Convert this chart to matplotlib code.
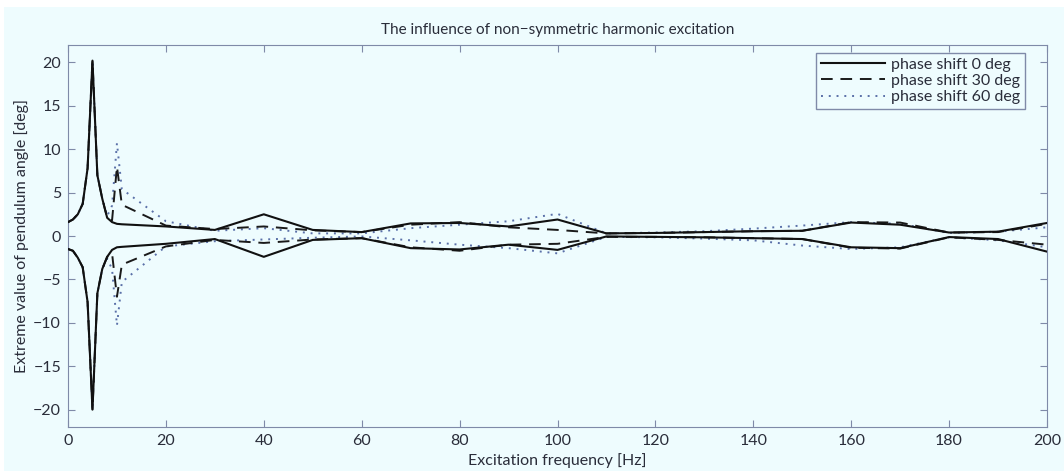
import matplotlib
matplotlib.use("Agg")
import matplotlib.pyplot as plt
from matplotlib.patches import Rectangle

plt.rcParams["font.family"] = ["Lato", "DejaVu Sans"]

# excitation frequencies [Hz]
freq = [0, 1, 2, 3, 4, 5, 6, 7, 8, 9, 10, 11,
        20, 30, 40, 50, 60, 70, 80, 90, 100, 110,
        120, 130, 140, 150, 160, 170, 180, 190, 200]

# extreme pendulum angles [deg], phase shift 0 deg
shift0_max = [1.6, 1.9, 2.5, 3.7, 7.8, 20.2, 7.0, 4.3, 2.1, 1.6, 1.4, 1.35,
              1.1, 0.7, 2.5, 0.7, 0.45, 1.45, 1.5, 1.1, 1.9, 0.3,
              0.35, 0.45, 0.55, 0.6, 1.55, 1.3, 0.4, 0.5, 1.5]
shift0_min = [-1.5, -1.7, -2.5, -3.6, -7.6, -20.0, -6.6, -3.8, -2.4, -1.6, -1.3, -1.25,
              -0.9, -0.35, -2.4, -0.45, -0.25, -1.4, -1.55, -1.0, -1.6, -0.05,
              -0.1, -0.15, -0.25, -0.35, -1.3, -1.4, -0.12, -0.35, -1.8]

# phase shift 30 deg
shift30_max = [1.6, 1.9, 2.5, 3.7, 7.8, 20.2, 7.0, 4.3, 2.1, 1.8, 8.0, 3.6,
               1.2, 0.8, 1.1, 0.65, 0.45, 1.3, 1.6, 1.0, 0.7, 0.3,
               0.35, 0.45, 0.55, 0.6, 1.6, 1.55, 0.4, 0.45, 1.4]
shift30_min = [-1.5, -1.7, -2.5, -3.6, -7.6, -20.0, -6.6, -3.8, -2.4, -2.0, -7.0, -3.3,
               -1.2, -0.45, -0.8, -0.4, -0.25, -1.3, -1.7, -1.0, -0.9, -0.1,
               -0.1, -0.15, -0.25, -0.35, -1.35, -1.45, -0.15, -0.45, -1.0]

# phase shift 60 deg
shift60_max = [1.6, 1.9, 2.5, 3.7, 7.8, 20.2, 7.0, 4.3, 2.3, 3.5, 10.7, 5.4,
               1.7, 0.6, 0.9, 0.3, 0.3, 0.9, 1.3, 1.7, 2.55, 0.3,
               0.4, 0.55, 0.85, 1.2, 1.6, 1.4, 0.35, 0.5, 1.0]
shift60_min = [-1.5, -1.7, -2.5, -3.6, -7.6, -20.0, -6.6, -3.8, -2.6, -3.8, -10.3, -5.3,
               -1.2, -0.6, -0.4, -0.2, -0.05, -0.5, -1.0, -1.4, -2.0, -0.1,
               -0.15, -0.3, -0.5, -1.1, -1.5, -1.3, -0.15, -0.5, -1.3]

bg = "#eefcfe"
frame = "#7f8aa8"
text_col = "#2a2d3a"
fs = 11.5

fig = plt.figure(figsize=(10.64, 4.71), dpi=100, facecolor="white")
fig.patches.append(Rectangle((4 / 1064, 0), 1, 1 - 7 / 471, transform=fig.transFigure,
                             facecolor=bg, edgecolor="none", zorder=-10))
ax = fig.add_axes([68 / 1064, 1 - 427 / 471, (1047 - 68) / 1064, (427 - 45) / 471])
ax.set_facecolor(bg)

ax.plot(freq, shift60_max, color="#5a70a8", lw=1.4, dashes=(1, 3),
        label="phase shift 60 deg", zorder=2)
ax.plot(freq, shift60_min, color="#5a70a8", lw=1.4, dashes=(1, 3), zorder=2)
ax.plot(freq, shift30_max, color="#1a1a1a", lw=1.4, dashes=(6, 4),
        label="phase shift 30 deg", zorder=3)
ax.plot(freq, shift30_min, color="#1a1a1a", lw=1.4, dashes=(6, 4), zorder=3)
ax.plot(freq, shift0_max, "-", color="#111111", lw=1.5, label="phase shift 0 deg", zorder=4)
ax.plot(freq, shift0_min, "-", color="#111111", lw=1.5, zorder=4)

ax.set_xlim(0, 200)
ax.set_ylim(-22, 22)
ax.set_xticks(range(0, 201, 20))
ax.set_yticks(range(-20, 21, 5))
ax.tick_params(direction="in", top=True, right=True, length=5, color=frame,
               labelsize=fs, labelcolor=text_col, pad=5)
for s in ax.spines.values():
    s.set_color(frame)

ax.set_title("The influence of non\u2212symmetric harmonic excitation", fontsize=11,
             color=text_col, pad=8)
ax.set_xlabel("Excitation frequency [Hz]", fontsize=fs, color=text_col, labelpad=4)
ax.set_ylabel("Extreme value of pendulum angle [deg]", fontsize=fs, color=text_col, labelpad=3)

handles, labels = ax.get_legend_handles_labels()
leg = ax.legend(handles[::-1], labels[::-1], loc="upper right",
                bbox_to_anchor=(1025 / 1064, 1 - 53 / 471), bbox_transform=fig.transFigure,
                borderaxespad=0, fontsize=fs, frameon=True, fancybox=False,
                facecolor=bg, edgecolor=frame, handlelength=4.0, labelspacing=0.12,
                handletextpad=0.4, borderpad=0.3)
leg.get_frame().set_alpha(1)
for t in leg.get_texts():
    t.set_color(text_col)

fig.savefig("out.png", dpi=100, facecolor=fig.get_facecolor())
